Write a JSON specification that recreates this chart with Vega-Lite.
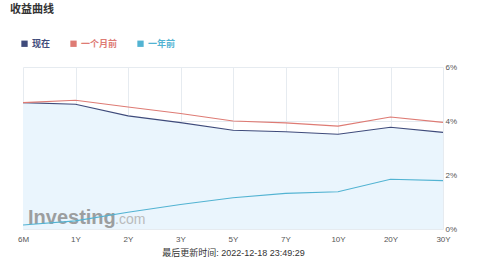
{
  "$schema": "https://vega.github.io/schema/vega-lite/v6.json",
  "autosize": "none",
  "width": 420,
  "height": 162,
  "padding": {"left": 23, "top": 67, "right": 41, "bottom": 35},
  "background": "#ffffff",
  "config": {
    "font": "Liberation Sans, Noto Sans CJK SC",
    "view": {"stroke": null}
  },
  "title": {
    "text": "收益曲线",
    "anchor": "start",
    "frame": "group",
    "orient": "top",
    "offset": 24,
    "dx": -13,
    "fontSize": 11,
    "fontWeight": "bold",
    "color": "#333333",
    "font": "Noto Sans CJK SC"
  },
  "datasets": {
    "yields": [
      {"term": "6M", "series": "现在", "value": 4.68},
      {"term": "1Y", "series": "现在", "value": 4.62},
      {"term": "2Y", "series": "现在", "value": 4.19},
      {"term": "3Y", "series": "现在", "value": 3.94},
      {"term": "5Y", "series": "现在", "value": 3.66},
      {"term": "7Y", "series": "现在", "value": 3.60},
      {"term": "10Y", "series": "现在", "value": 3.51},
      {"term": "20Y", "series": "现在", "value": 3.77},
      {"term": "30Y", "series": "现在", "value": 3.58},
      {"term": "6M", "series": "一个月前", "value": 4.68},
      {"term": "1Y", "series": "一个月前", "value": 4.77},
      {"term": "2Y", "series": "一个月前", "value": 4.52},
      {"term": "3Y", "series": "一个月前", "value": 4.28},
      {"term": "5Y", "series": "一个月前", "value": 4.00},
      {"term": "7Y", "series": "一个月前", "value": 3.93},
      {"term": "10Y", "series": "一个月前", "value": 3.81},
      {"term": "20Y", "series": "一个月前", "value": 4.15},
      {"term": "30Y", "series": "一个月前", "value": 3.95},
      {"term": "6M", "series": "一年前", "value": 0.15},
      {"term": "1Y", "series": "一年前", "value": 0.30},
      {"term": "2Y", "series": "一年前", "value": 0.62},
      {"term": "3Y", "series": "一年前", "value": 0.91},
      {"term": "5Y", "series": "一年前", "value": 1.16},
      {"term": "7Y", "series": "一年前", "value": 1.32},
      {"term": "10Y", "series": "一年前", "value": 1.38},
      {"term": "20Y", "series": "一年前", "value": 1.84},
      {"term": "30Y", "series": "一年前", "value": 1.79}
    ],
    "watermark": [
      {"term": "6M", "value": 0.42, "word": "Investing"}
    ],
    "watermark2": [
      {"term": "6M", "value": 0.42, "word": ".com"}
    ]
  },
  "encoding": {
    "x": {
      "field": "term",
      "type": "ordinal",
      "sort": ["6M", "1Y", "2Y", "3Y", "5Y", "7Y", "10Y", "20Y", "30Y"],
      "scale": {"type": "point", "padding": 0},
      "axis": {
        "title": "最后更新时间: 2022-12-18 23:49:29",
        "titleFontSize": 9,
        "titleFontWeight": "normal",
        "titleColor": "#333333",
        "titlePadding": 5,
        "labelAngle": 0,
        "labelFontSize": 8,
        "labelColor": "#555555",
        "labelPadding": 6,
        "tickSize": 0,
        "domain": false,
        "grid": true,
        "gridColor": "#e6ebf0",
        "gridWidth": 1
      }
    },
    "y": {
      "field": "value",
      "type": "quantitative",
      "scale": {"domain": [0, 6], "nice": false},
      "axis": {
        "orient": "right",
        "title": null,
        "values": [0, 2, 4, 6],
        "labelExpr": "datum.value + '%'",
        "labelFontSize": 8,
        "labelColor": "#555555",
        "labelPadding": 2,
        "tickSize": 0,
        "domain": false,
        "grid": true,
        "gridColor": "#e6ebf0"
      }
    }
  },
  "layer": [
    {
      "data": {"name": "yields"},
      "transform": [{"filter": "datum.series === '现在'"}],
      "mark": {"type": "area", "color": "#eaf5fd", "opacity": 1}
    },
    {
      "data": {"name": "watermark"},
      "mark": {"type": "text", "align": "left", "baseline": "middle", "fontSize": 20, "fontWeight": "bold", "color": "#8f8f8f", "opacity": 0.85, "dx": 5},
      "encoding": {
        "text": {"field": "word", "type": "nominal"}
      }
    },
    {
      "data": {"name": "watermark2"},
      "mark": {"type": "text", "align": "left", "baseline": "middle", "fontSize": 14, "fontWeight": "normal", "color": "#b5b5b5", "opacity": 0.9, "dx": 92, "dy": 2},
      "encoding": {
        "text": {"field": "word", "type": "nominal"}
      }
    },
    {
      "data": {"name": "yields"},
      "mark": {"type": "line", "strokeWidth": 1.1},
      "encoding": {
        "color": {
          "field": "series",
          "type": "nominal",
          "scale": {
            "domain": ["现在", "一个月前", "一年前"],
            "range": ["#3f4b7b", "#de7b74", "#52b3d2"]
          },
          "legend": {
            "title": null,
            "orient": "none",
            "direction": "horizontal",
            "legendX": -3,
            "legendY": -28,
            "symbolType": "square",
            "symbolSize": 40,
            "symbolStrokeWidth": 0,
            "labelFontSize": 9,
            "labelFontWeight": "bold",
            "labelOffset": 3,
            "columnPadding": 18,
            "labelFont": "Noto Sans CJK SC",
            "encode": {
              "symbols": {"update": {"fill": {"scale": "color", "field": "value"}, "stroke": {"value": null}}},
              "labels": {"update": {"fill": {"scale": "color", "field": "value"}}}
            }
          }
        }
      }
    }
  ]
}
